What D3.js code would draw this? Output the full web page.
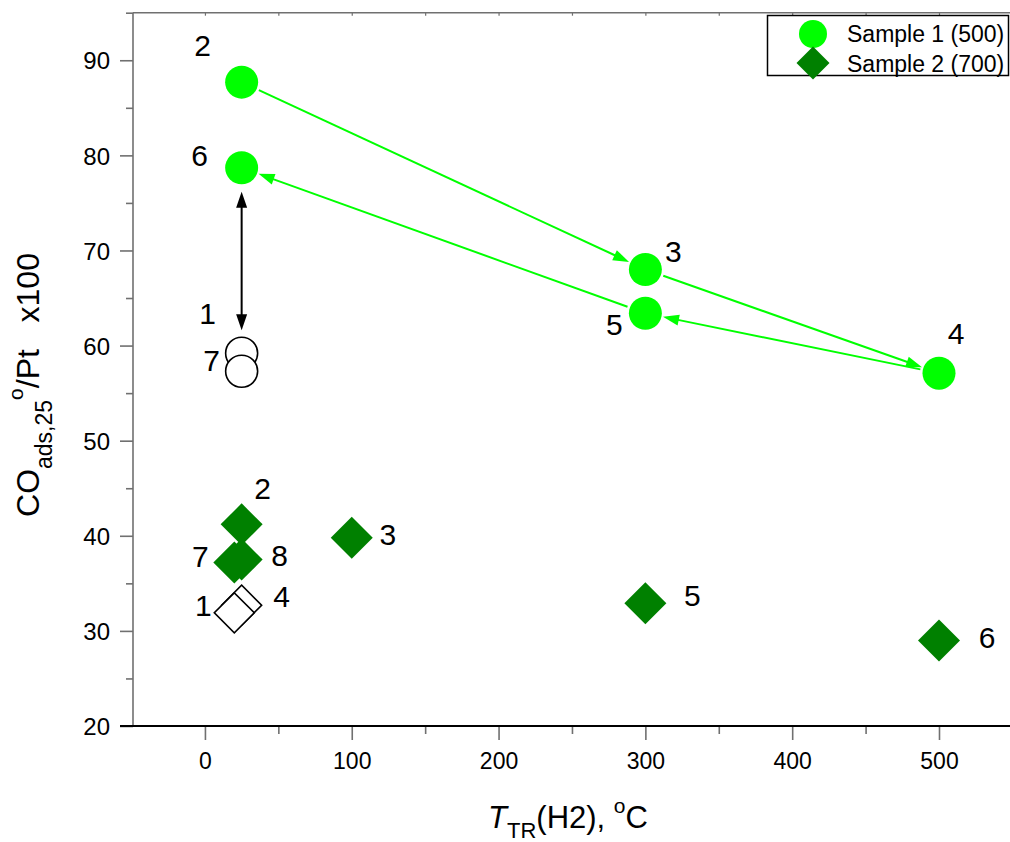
<!DOCTYPE html>
<html>
<head>
<meta charset="utf-8">
<script src="https://cdn.jsdelivr.net/npm/d3@7"></script>
<style>
  html, body { margin: 0; padding: 0; background: #fff; }
  svg { display: block; font-family: "Liberation Sans", Arial, sans-serif; }
  text { white-space: pre; }
</style>
</head>
<body>
<svg id="chart" width="1010" height="842"></svg>
<script>
// CO adsorption (x100 per Pt) versus H2 treatment temperature, two samples.

// Sample 1 (calcined at 500) - filled points
const s1Labels = ["2", "3", "4", "5", "6"];
const s1Temp   = [25, 300, 500, 300, 25];
const s1CO     = [87.7, 68.0, 57.1, 63.4, 78.7];
// Sample 1 - open (initial / repeated) points
const s1OpenLabels = ["1", "7"];
const s1OpenTemp   = [25, 25];
const s1OpenCO     = [59.2, 57.3];

// Sample 2 (calcined at 700) - filled points
const s2Labels = ["2", "3", "5", "6", "7", "8"];
const s2Temp   = [25, 100, 300, 500, 20, 25];
const s2CO     = [41.2, 39.8, 32.9, 29.0, 37.2, 37.5];
// Sample 2 - open points
const s2OpenLabels = ["4", "1"];
const s2OpenTemp   = [25, 20];
const s2OpenCO     = [32.7, 31.9];

// Treatment sequence drawn as arrows for sample 1 (by point label)
const s1Sequence = [["2", "3"], ["3", "4"], ["4", "5"], ["5", "6"]];

// Axis ticks
const xMajorTicks = [0, 100, 200, 300, 400, 500];
const xMinorTicks = [50, 150, 250, 350, 450, 550];
const yMajorTicks = [20, 30, 40, 50, 60, 70, 80, 90];
const yMinorTicks = [25, 35, 45, 55, 65, 75, 85, 95];

const legendItems = ["Sample 1 (500)", "Sample 2 (700)"];

// Label placement around each marker (pixels)
const s1LabelOffset = { "2": [-39, -37], "3": [28, -18], "4": [17, -40], "5": [-31, 11], "6": [-42, -13] };
const s1OpenLabelOffset = { "1": [-34, -40], "7": [-30, -11] };
const s2LabelOffset = { "2": [21, -36], "3": [36, -4], "5": [47, -8], "6": [48, -3], "7": [-34, -6], "8": [38, -5] };
const s2OpenLabelOffset = { "4": [40, -9], "1": [-31, -8] };

const C_LIGHT = "#00ff00";
const C_DARK = "#008000";
const AXIS_GREY = "#707070";

const svg = d3.select("#chart");

const x = d3.scaleLinear().domain([-49, 550]).range([133, 1012.4]);
const y = d3.scaleLinear().domain([20, 95]).range([726, 12.7]);

const plotLeft = x.range()[0], plotRight = 1010, plotBottom = y.range()[0], plotTop = y.range()[1];

// ---------- axes ----------
// Top frame line with small inward ticks
const topAxis = svg.append("g").attr("transform", `translate(0,${plotTop})`)
  .call(d3.axisTop(x).tickValues(xMajorTicks.concat(xMinorTicks)).tickSize(-3).tickFormat(""));
topAxis.select(".domain").remove();
topAxis.selectAll("line").attr("stroke", AXIS_GREY).attr("stroke-width", 1.2);
svg.append("line").attr("x1", plotLeft).attr("x2", plotRight).attr("y1", plotTop).attr("y2", plotTop)
  .attr("stroke", AXIS_GREY).attr("stroke-width", 1.6);

// Left axis
const yAxis = svg.append("g").attr("transform", `translate(${plotLeft},0)`)
  .call(d3.axisLeft(y).tickValues(yMajorTicks).tickSize(13).tickPadding(10).tickFormat(d3.format("d")));
yAxis.select(".domain").remove();
yAxis.selectAll("line").attr("stroke", AXIS_GREY).attr("stroke-width", 1.6);
yAxis.selectAll("text").attr("font-size", 24).attr("fill", "#000")
  .attr("font-family", "Liberation Sans, Arial, sans-serif").attr("dy", "0.36em");
const yMinor = svg.append("g").attr("transform", `translate(${plotLeft},0)`)
  .call(d3.axisLeft(y).tickValues(yMinorTicks).tickSize(7).tickFormat(""));
yMinor.select(".domain").remove();
yMinor.selectAll("line").attr("stroke", AXIS_GREY).attr("stroke-width", 1.6);
svg.append("line").attr("x1", plotLeft).attr("x2", plotLeft).attr("y1", plotTop).attr("y2", plotBottom)
  .attr("stroke", AXIS_GREY).attr("stroke-width", 1.6);

// Bottom axis
const xAxis = svg.append("g").attr("transform", `translate(0,${plotBottom + 1})`)
  .call(d3.axisBottom(x).tickValues(xMajorTicks).tickSize(13).tickPadding(13).tickFormat(d3.format("d")));
xAxis.select(".domain").remove();
xAxis.selectAll("line").attr("stroke", AXIS_GREY).attr("stroke-width", 1.6);
xAxis.selectAll("text").attr("font-size", 23).attr("fill", "#000")
  .attr("font-family", "Liberation Sans, Arial, sans-serif");
const xMinor = svg.append("g").attr("transform", `translate(0,${plotBottom + 1})`)
  .call(d3.axisBottom(x).tickValues(xMinorTicks).tickSize(7).tickFormat(""));
xMinor.select(".domain").remove();
xMinor.selectAll("line").attr("stroke", AXIS_GREY).attr("stroke-width", 1.6);
svg.append("line").attr("x1", plotLeft - 13).attr("x2", plotRight).attr("y1", plotBottom).attr("y2", plotBottom)
  .attr("stroke", "#000").attr("stroke-width", 1.8);

// ---------- axis titles ----------
const xTitle = svg.append("text").attr("x", 568).attr("y", 828)
  .attr("text-anchor", "middle").attr("font-size", 31).attr("fill", "#000");
xTitle.append("tspan").attr("font-style", "italic").text("T");
xTitle.append("tspan").attr("font-size", 22).attr("dy", 10).text("TR");
xTitle.append("tspan").attr("dy", -10).text("(H2), ");
xTitle.append("tspan").attr("font-size", 21).attr("dy", -15).text("o");
xTitle.append("tspan").attr("dy", 15).text("C");

const yTitle = svg.append("text").attr("transform", "translate(39,385) rotate(-90)")
  .attr("text-anchor", "middle").attr("font-size", 32).attr("fill", "#000");
yTitle.append("tspan").text("CO");
yTitle.append("tspan").attr("font-size", 23).attr("dy", 13).text("ads,25");
yTitle.append("tspan").attr("font-size", 21).attr("dy", -29).text("o");
yTitle.append("tspan").attr("dy", 16).text("/Pt   x100");

// ---------- arrows ----------
function arrow(g, p0, p1, gap0, gap1, color, heads) {
  const dx = p1[0] - p0[0], dy = p1[1] - p0[1];
  const L = Math.hypot(dx, dy), ux = dx / L, uy = dy / L;
  const a = [p0[0] + ux * gap0, p0[1] + uy * gap0];
  const b = [p1[0] - ux * gap1, p1[1] - uy * gap1];
  const hl = 16, hw = 5.5;
  const head = (tip, dirx, diry) => {
    const bx = tip[0] - dirx * hl, by = tip[1] - diry * hl;
    return [[tip[0], tip[1]], [bx - diry * hw, by + dirx * hw], [bx + diry * hw, by - dirx * hw]];
  };
  let s = a, e = b;
  if (heads.end) e = [b[0] - ux * (hl - 2), b[1] - uy * (hl - 2)];
  if (heads.start) s = [a[0] + ux * (hl - 2), a[1] + uy * (hl - 2)];
  g.append("line").attr("x1", s[0]).attr("y1", s[1]).attr("x2", e[0]).attr("y2", e[1])
    .attr("stroke", color).attr("stroke-width", 2);
  if (heads.end) g.append("polygon").attr("points", head(b, ux, uy).join(" ")).attr("fill", color);
  if (heads.start) g.append("polygon").attr("points", head(a, -ux, -uy).join(" ")).attr("fill", color);
}

const arrowLayer = svg.append("g");
const s1Pos = {};
s1Labels.forEach((l, i) => { s1Pos[l] = [x(s1Temp[i]), y(s1CO[i])]; });
s1Sequence.forEach(([from, to]) => arrow(arrowLayer, s1Pos[from], s1Pos[to], 19, 18, C_LIGHT, { end: true }));
// Reversibility check: point 6 back to the fresh state (open point 1)
arrow(arrowLayer, s1Pos["6"], [x(s1OpenTemp[0]), y(s1OpenCO[0])], 24, 23, "#000", { start: true, end: true });

// ---------- markers ----------
const diamond = (size) => d3.symbol(d3.symbolSquare, size)();
const labelFont = 30;
function pointLabel(px, py, text, off) {
  svg.append("text").attr("x", px + off[0]).attr("y", py + off[1] + 11)
    .attr("text-anchor", "middle").attr("font-size", labelFont).attr("fill", "#000").text(text);
}

// Sample 2 open and filled diamonds
s2OpenLabels.forEach((l, i) => {
  const px = x(s2OpenTemp[i]), py = y(s2OpenCO[i]);
  svg.append("path").attr("d", diamond(800)).attr("transform", `translate(${px},${py}) rotate(45)`)
    .attr("fill", "#fff").attr("stroke", "#000").attr("stroke-width", 1.6);
});
s2Labels.forEach((l, i) => {
  const px = x(s2Temp[i]), py = y(s2CO[i]);
  svg.append("path").attr("d", diamond(882)).attr("transform", `translate(${px},${py}) rotate(45)`)
    .attr("fill", C_DARK);
});

// Sample 1 open and filled circles
s1OpenLabels.forEach((l, i) => {
  svg.append("circle").attr("cx", x(s1OpenTemp[i])).attr("cy", y(s1OpenCO[i])).attr("r", 16)
    .attr("fill", "#fff").attr("stroke", "#000").attr("stroke-width", 1.6);
});
s1Labels.forEach((l, i) => {
  svg.append("circle").attr("cx", x(s1Temp[i])).attr("cy", y(s1CO[i])).attr("r", 16.5).attr("fill", C_LIGHT);
});

// Point labels
s1Labels.forEach((l, i) => pointLabel(x(s1Temp[i]), y(s1CO[i]), l, s1LabelOffset[l]));
s1OpenLabels.forEach((l, i) => pointLabel(x(s1OpenTemp[i]), y(s1OpenCO[i]), l, s1OpenLabelOffset[l]));
s2Labels.forEach((l, i) => pointLabel(x(s2Temp[i]), y(s2CO[i]), l, s2LabelOffset[l]));
s2OpenLabels.forEach((l, i) => pointLabel(x(s2OpenTemp[i]), y(s2OpenCO[i]), l, s2OpenLabelOffset[l]));

// ---------- legend ----------
const legend = svg.append("g");
legend.append("rect").attr("x", 767.5).attr("y", 15.5).attr("width", 241).attr("height", 60)
  .attr("fill", "#fff").attr("stroke", "#000").attr("stroke-width", 1.5);
legend.append("circle").attr("cx", 813).attr("cy", 34).attr("r", 14).attr("fill", C_LIGHT);
legend.append("path").attr("d", diamond(545)).attr("transform", "translate(813,63) rotate(45)").attr("fill", C_DARK);
legendItems.forEach((t, i) => {
  legend.append("text").attr("x", 847).attr("y", 42 + i * 29.5).attr("font-size", 23)
    .attr("fill", "#000").text(t);
});
</script>
</body>
</html>
